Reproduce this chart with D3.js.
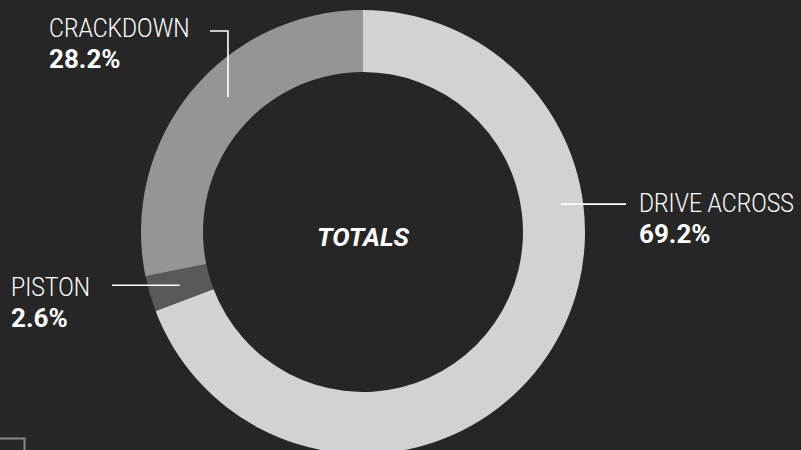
<!DOCTYPE html>
<html>
<head>
<meta charset="utf-8">
<script src="https://cdn.jsdelivr.net/npm/d3@7"></script>
<style>
html, body { margin: 0; padding: 0; background: #262626; overflow: hidden; }
text { font-family: Roboto, "Liberation Sans", sans-serif; fill: #fff; }
.name { font-weight: 300; font-size: 25.5px; }
.value { font-weight: 700; font-size: 26px; }
.leader { stroke: #fff; stroke-width: 1.6; fill: none; }
</style>
</head>
<body>
<div id="chart"></div>
<script>
var categories = ["DRIVE ACROSS", "PISTON", "CRACKDOWN"],
    values = [69.2, 2.6, 28.2],
    colors = ["#d1d2d4", "#58595b", "#939598"];

// where each callout sits (angle on the ring in degrees, text corner)
var callouts = [
  { angle: 82,  r: 200, lx: 639, ly: 212, path: "h" },
  { angle: null, r: 191, lx: 11, ly: 296, path: "h" },
  { angle: 315, r: 191, lx: 49,  ly: 37,  path: "elbow" }
];

var w = 801, h = 450,
    cx = 363, cy = 232,
    r0 = 160, r1 = 222;

var svg = d3.select('#chart').append('svg')
    .attr('width', w).attr('height', h);

svg.append('rect').attr('width', w).attr('height', h).attr('fill', '#262626');

var g = svg.append('g').attr('transform', 'translate(' + cx + ',' + cy + ')');

var pie = d3.pie().sort(null).value(function(d) { return d; }),
    arc = d3.arc().innerRadius(r0).outerRadius(r1);

var arcs = pie(values);

g.selectAll('path.slice')
    .data(arcs)
  .enter().append('path')
    .attr('class', 'slice')
    .attr('d', arc)
    .attr('fill', function(d, i) { return colors[i]; });

g.append('text')
    .attr('x', 0).attr('y', 14)
    .attr('text-anchor', 'middle')
    .style('font-weight', 700)
    .style('font-style', 'italic')
    .style('font-size', '26px')
    .text('TOTALS');

function ringPoint(deg, r) {
  var a = deg * Math.PI / 180;
  return [cx + Math.sin(a) * r, cy - Math.cos(a) * r];
}

arcs.forEach(function(d, i) {
  var c = callouts[i],
      deg = c.angle != null ? c.angle : (d.startAngle + d.endAngle) / 2 * 180 / Math.PI,
      p = ringPoint(deg, c.r),
      pts;

  if (c.path == "elbow") {
    var ty = c.ly - 6;
    pts = [p, [p[0], ty], [p[0] - 18, ty]];
  } else if (p[0] < c.lx) {
    pts = [p, [c.lx - 13, p[1]]];
  } else {
    pts = [p, [c.lx + 101, p[1]]];
  }

  svg.append('path').attr('class', 'leader')
    .attr('d', d3.line()(pts));

  // the original face is a condensed one, so squeeze the light caps a bit
  svg.append('text').attr('class', 'name')
    .attr('transform', 'translate(' + c.lx + ',' + c.ly + ') scale(0.9,1)')
    .text(categories[i]);
  svg.append('text').attr('class', 'value')
    .attr('x', c.lx).attr('y', c.ly + 30.5)
    .text(values[i].toFixed(1) + '%');
});

// faint corner mark
svg.append('path')
    .attr('d', 'M0,438.5H24.5V450')
    .attr('stroke', '#8a8a8a').attr('stroke-width', 2).attr('fill', 'none');
</script>
</body>
</html>
